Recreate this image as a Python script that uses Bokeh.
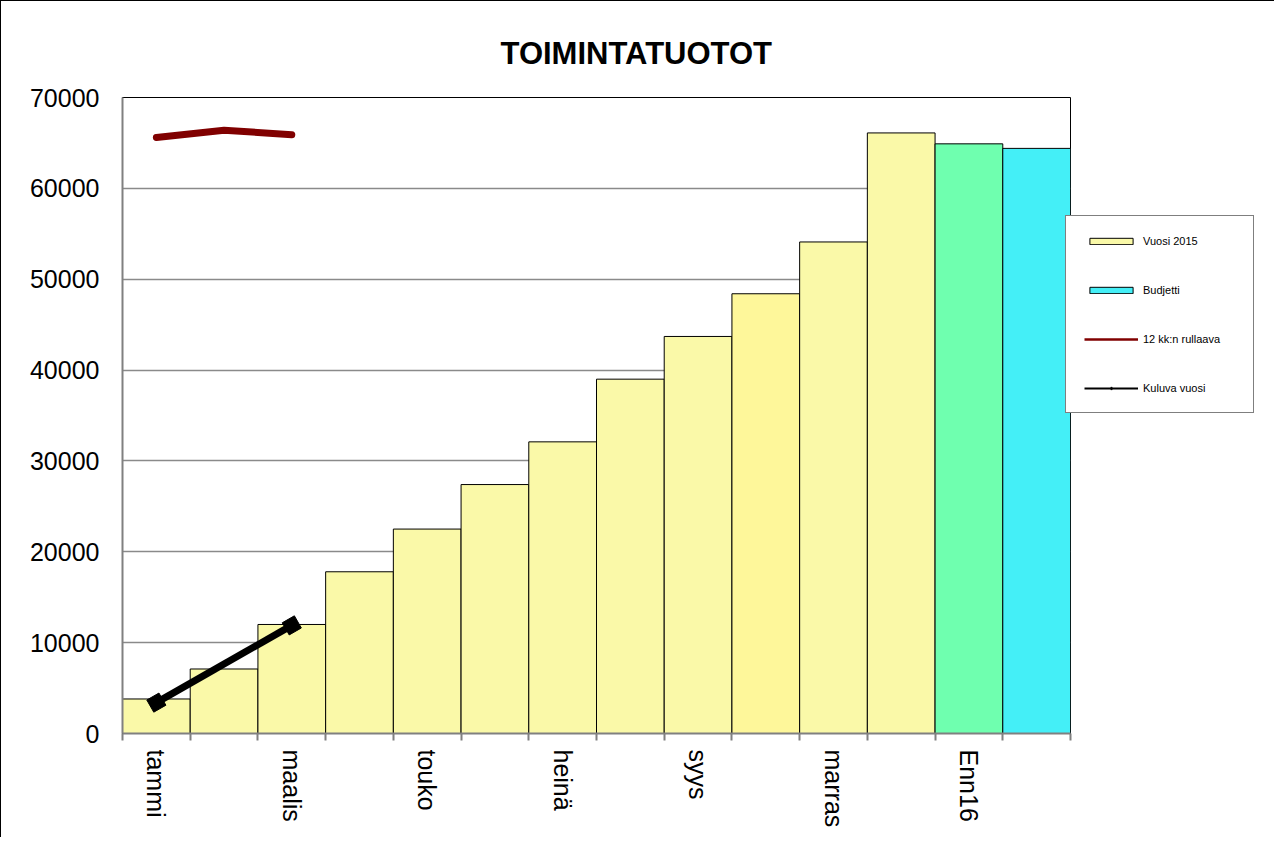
import math
from bokeh.plotting import figure
from bokeh.models import Range1d, FixedTicker, Legend, LegendItem, ColumnDataSource
from bokeh.embed import file_html
from bokeh.resources import INLINE

# ---------------- data ----------------
categories = ["tammi", "helmi", "maalis", "huhti", "touko", "kesä", "heinä",
              "elo", "syys", "loka", "marras", "joulu", "Enn16", "Bud16"]
labelled = ["tammi", "maalis", "touko", "heinä", "syys", "marras", "Enn16"]

months = categories[:12]
vuosi_2015 = [3800, 7100, 12000, 17800, 22500, 27400, 32100, 39000, 43700,
              48400, 54100, 66100]
ennuste_label = ["Enn16"]
ennuste_2016 = [64900]
budjetti_label = ["Bud16"]
budjetti = [64400]
rullaava_months = ["tammi", "helmi", "maalis"]
rullaava = [65600, 66400, 65900]
kuluva_months = ["tammi", "maalis"]
kuluva = [3400, 11900]

# ---------------- styles ----------------
YELLOW = "#FAF9A8"
vuosi_colors = [YELLOW] * 9 + ["#FEF79A"] + [YELLOW] * 2
GREEN = "#6FFFAF"
CYAN = "#44EFF7"
DARKRED = "#800000"
FONT = "Liberation Sans"
NAN = float("nan")


def xpos(names):
    return [categories.index(n) + 0.5 for n in names]


p = figure(frame_width=948, frame_height=636, output_backend="svg",
           toolbar_location=None,
           x_range=Range1d(0, len(categories)), y_range=Range1d(0, 70000),
           min_border_left=121, min_border_right=195, min_border_top=96,
           min_border_bottom=104, title="TOIMINTATUOTOT")
p.styles = {"border-left": "1px solid black", "border-top": "1px solid black",
            "border-right": "1px solid black"}

p.title.text_font = FONT
p.title.text_font_size = "31px"
p.title.text_font_style = "bold"
p.title.text_color = "black"
p.title.align = "left"
p.title.offset = 378
p.title.standoff = 53

p.outline_line_color = "black"
p.outline_line_width = 1
p.background_fill_color = "white"
p.border_fill_color = "white"

# grid
p.xgrid.visible = False
p.ygrid.grid_line_color = "#8a8a8a"
p.ygrid.grid_line_width = 1.5
p.ygrid.ticker = FixedTicker(ticks=list(range(0, 70001, 10000)))

# y axis
p.yaxis.ticker = FixedTicker(ticks=list(range(0, 70001, 10000)))
p.yaxis.axis_line_color = "#808080"
p.yaxis.axis_line_width = 2
p.yaxis.major_tick_out = 0
p.yaxis.major_tick_in = 0
p.yaxis.minor_tick_out = 0
p.yaxis.minor_tick_in = 0
p.yaxis.major_label_standoff = 23
p.yaxis.major_label_text_font = FONT
p.yaxis.major_label_text_font_size = "25px"
p.yaxis.major_label_text_color = "black"

# x axis: labels at bar centres, ticks at bar boundaries
p.xaxis.ticker = FixedTicker(ticks=xpos(labelled),
                             minor_ticks=list(range(0, len(categories) + 1)))
p.xaxis.major_label_overrides = {categories.index(n) + 0.5: n for n in labelled}
p.xaxis.major_label_orientation = -math.pi / 2
p.xaxis.axis_line_color = "#808080"
p.xaxis.axis_line_width = 2
p.xaxis.major_tick_out = 0
p.xaxis.major_tick_in = 0
p.xaxis.minor_tick_out = 7
p.xaxis.minor_tick_in = 0
p.xaxis.minor_tick_line_color = "#808080"
p.xaxis.minor_tick_line_width = 2
p.xaxis.major_label_standoff = 9
p.xaxis.major_label_text_font = FONT
p.xaxis.major_label_text_font_size = "25px"
p.xaxis.major_label_text_color = "black"

# bars
src_v = ColumnDataSource(dict(x=xpos(months), top=vuosi_2015, color=vuosi_colors))
r_v = p.vbar(x="x", top="top", width=1, source=src_v, fill_color="color",
             line_color="black", line_width=1)
r_e = p.vbar(x=xpos(ennuste_label), top=ennuste_2016, width=1, fill_color=GREEN,
             line_color="black", line_width=1)
r_b = p.vbar(x=xpos(budjetti_label), top=budjetti, width=1, fill_color=CYAN,
             line_color="black", line_width=1)

# lines
r_r = p.line(xpos(rullaava_months), rullaava, line_color=DARKRED, line_width=7,
             line_cap="round", line_join="round")
r_k = p.line(xpos(kuluva_months), kuluva, line_color="black", line_width=7)
r_km = p.scatter(xpos(kuluva_months), kuluva, marker="square", size=14, angle=0.52,
                 fill_color="black", line_color="black")

# thin legend-only proxies (NaN data: nothing drawn in the plot)
leg_r = p.line([NAN], [NAN], line_color=DARKRED, line_width=2.5)
leg_k = p.line([NAN], [NAN], line_color="black", line_width=2)
leg_km = p.scatter([NAN], [NAN], marker="diamond", size=10, fill_color="black",
                   line_color="black")

legend = Legend(items=[
    LegendItem(label="Vuosi 2015", renderers=[r_v], index=0),
    LegendItem(label="Budjetti", renderers=[r_b]),
    LegendItem(label="12 kk:n rullaava", renderers=[leg_r]),
    LegendItem(label="Kuluva vuosi", renderers=[leg_k, leg_km]),
], location=(-5, 320))
legend.label_text_font = FONT
legend.label_text_font_size = "11px"
legend.label_text_color = "black"
legend.glyph_width = 54
legend.glyph_height = 8
legend.label_height = 13
legend.label_width = 92
legend.label_standoff = 5
legend.spacing = 36
legend.padding = 18
legend.margin = 0
legend.border_line_color = "black"
legend.border_line_width = 1
legend.background_fill_color = "white"
legend.background_fill_alpha = 1
p.add_layout(legend, "right")

open("out.html", "w").write(file_html(p, INLINE))
